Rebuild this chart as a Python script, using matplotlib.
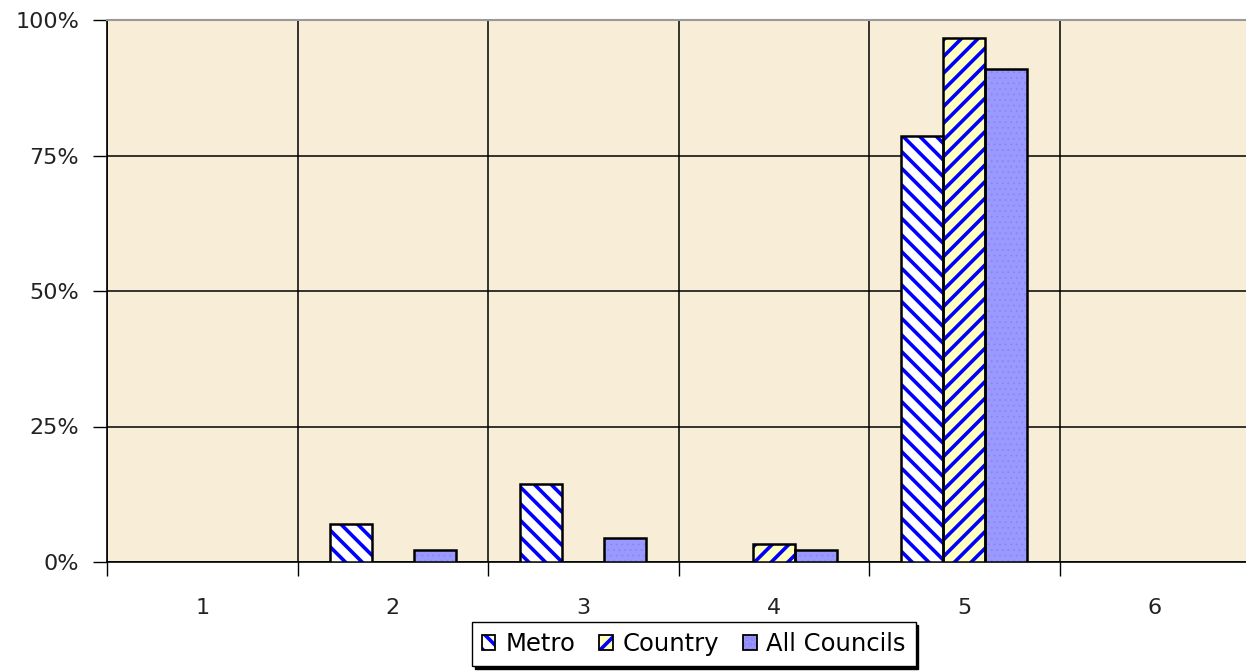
import numpy as np
import matplotlib as mpl
import matplotlib.pyplot as plt
from matplotlib.patches import Patch
from matplotlib.legend_handler import HandlerTuple

plt.rcParams['font.family'] = ['DejaVu Sans']
plt.rcParams['hatch.linewidth'] = 2.6

categories = ['1', '2', '3', '4', '5', '6']
metro = [0, 7.1, 14.3, 0, 78.6, 0]
country = [0, 0, 0, 3.3, 96.7, 0]
all_councils = [0, 2.3, 4.5, 2.3, 90.9, 0]

# name, values, fill, hatch, hatch colour, hatch line width
series = [
    ('Metro', metro, 'white', '\\\\', 'blue', 2.6),
    ('Country', country, '#ffffc0', '//', 'blue', 2.6),
    ('All Councils', all_councils, '#9999ff', '...', '#8f84f0', 0.6),
]

fig = plt.figure(figsize=(12.46, 6.71), dpi=100)
ax = fig.add_axes([107 / 1246, 109 / 671, 1143 / 1246, 542 / 671])
ax.set_facecolor('#f8edd6')

x = np.arange(1, len(categories) + 1)
w = 0.22
handles = []
for i, (name, vals, fc, hatch, hc, hlw) in enumerate(series):
    pos = x + (i - 1) * w
    with mpl.rc_context({'hatch.linewidth': hlw}):
        ax.bar(pos, vals, w, color=fc, hatch=hatch, edgecolor=hc, linewidth=0, zorder=3)
        h = Patch(facecolor=fc, hatch=hatch, edgecolor=hc, linewidth=0)
    # outline drawn on top, skipping empty bars
    for p, v in zip(pos, vals):
        if v > 0:
            ax.bar(p, v, w, fill=False, edgecolor='black', linewidth=1.8, zorder=4)
    handles.append((h, Patch(fill=False, edgecolor='black', linewidth=1.3)))

ax.set_xlim(0.5, 6.5)
ax.set_ylim(0, 100)

ax.set_xticks(np.arange(0.5, 7, 1))
ax.set_xticklabels([])
ax.set_xticks(x, minor=True)
ax.set_xticklabels(categories, minor=True)
ax.tick_params(axis='x', which='major', length=10, width=1, direction='out', color='black')
ax.tick_params(axis='x', which='minor', length=0, pad=26, labelsize=16, labelcolor='#222222')

ax.set_yticks([0, 25, 50, 75, 100])
ax.set_yticklabels(['0%', '25%', '50%', '75%', '100%'])
ax.tick_params(axis='y', length=10, width=1, direction='out', pad=10, labelsize=16,
               labelcolor='#222222')

ax.grid(True, which='major', color='black', linewidth=1.1, zorder=1)
ax.set_axisbelow(True)

for s in ['left', 'bottom']:
    ax.spines[s].set_color('black')
    ax.spines[s].set_linewidth(1.2)
ax.spines['top'].set_color('#999999')
ax.spines['top'].set_linewidth(1.5)
ax.spines['right'].set_visible(False)

leg = fig.legend(handles, [s[0] for s in series],
                 handler_map={tuple: HandlerTuple(ndivide=1)},
                 loc='center', bbox_to_anchor=(694 / 1246, 1 - 644 / 671),
                 ncol=3, fontsize=17.5, frameon=True, fancybox=False,
                 edgecolor='black', framealpha=1,
                 shadow={'color': 'black', 'alpha': 1},
                 handlelength=0.55, handleheight=0.55, handletextpad=0.4,
                 columnspacing=1.0, borderpad=0.4, borderaxespad=0)
leg.get_frame().set_linewidth(1)

fig.savefig('out.png', dpi=100)
